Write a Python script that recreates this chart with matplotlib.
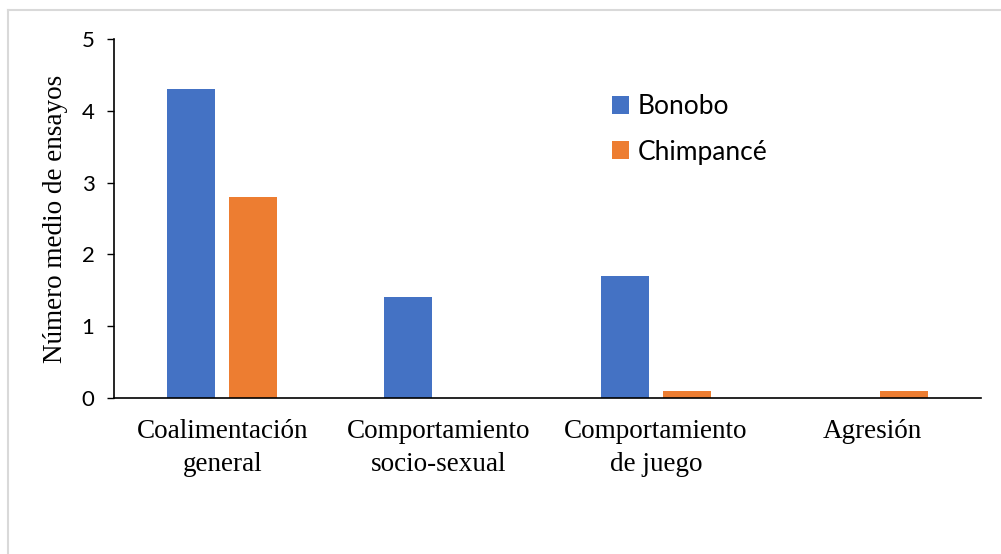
import matplotlib
matplotlib.use("Agg")
import matplotlib.pyplot as plt
from matplotlib.lines import Line2D
import numpy as np

categories = ["Coalimentación\ngeneral", "Comportamiento\nsocio-sexual",
              "Comportamiento\nde juego", "Agresión"]
bonobo = [4.3, 1.4, 1.7, 0.0]
chimpance = [2.8, 0.0, 0.1, 0.1]
series_names = ["Bonobo", "Chimpancé"]
yticks = [0, 1, 2, 3, 4, 5]

W, H = 1001, 554
fig = plt.figure(figsize=(W / 100, H / 100), dpi=100)
ax = fig.add_axes([114 / W, 1 - 398 / H, (981 - 114) / W, (398 - 39) / H])

x = np.arange(len(categories))
bw = 0.2215
off = 0.143
ax.bar(x - off, bonobo, bw, color="#4472C4", label=series_names[0])
ax.bar(x + off, chimpance, bw, color="#ED7D31", label=series_names[1])

ax.set_xlim(-0.5, len(categories) - 0.5)
ax.set_ylim(0, 5)
ax.set_yticks(yticks)
ax.set_yticklabels([str(v) for v in yticks], fontfamily="Lato", fontsize=16)
ax.set_xticks(x)
ax.set_xticklabels(categories, fontfamily="Liberation Serif", fontsize=19.5,
                   linespacing=1.45)
ax.tick_params(axis="x", length=0, pad=15)
ax.tick_params(axis="y", length=5, width=1.0, pad=9, color="black")

for s in ["top", "right"]:
    ax.spines[s].set_visible(False)
for s in ["left", "bottom"]:
    ax.spines[s].set_linewidth(1.2)
    ax.spines[s].set_color("black")

ax.set_ylabel("Número medio de ensayos", fontfamily="Liberation Serif",
              fontsize=19.5, labelpad=10)

leg = fig.legend(loc="upper left", bbox_to_anchor=(612 / W, 1 - 94 / H),
                 frameon=False, borderpad=0, borderaxespad=0,
                 handlelength=0.66, handleheight=0.66, handletextpad=0.33,
                 labelspacing=0.78, prop={"family": "Lato", "size": 19})

# outer border (top and left visible)
fig.add_artist(Line2D([7.5 / W, 7.5 / W], [0, 1 - 10 / H], transform=fig.transFigure,
                      color="#d9d9d9", linewidth=1.5))
fig.add_artist(Line2D([7.5 / W, 1], [1 - 10 / H, 1 - 10 / H], transform=fig.transFigure,
                      color="#d9d9d9", linewidth=1.5))

fig.savefig("out.png", dpi=100)
